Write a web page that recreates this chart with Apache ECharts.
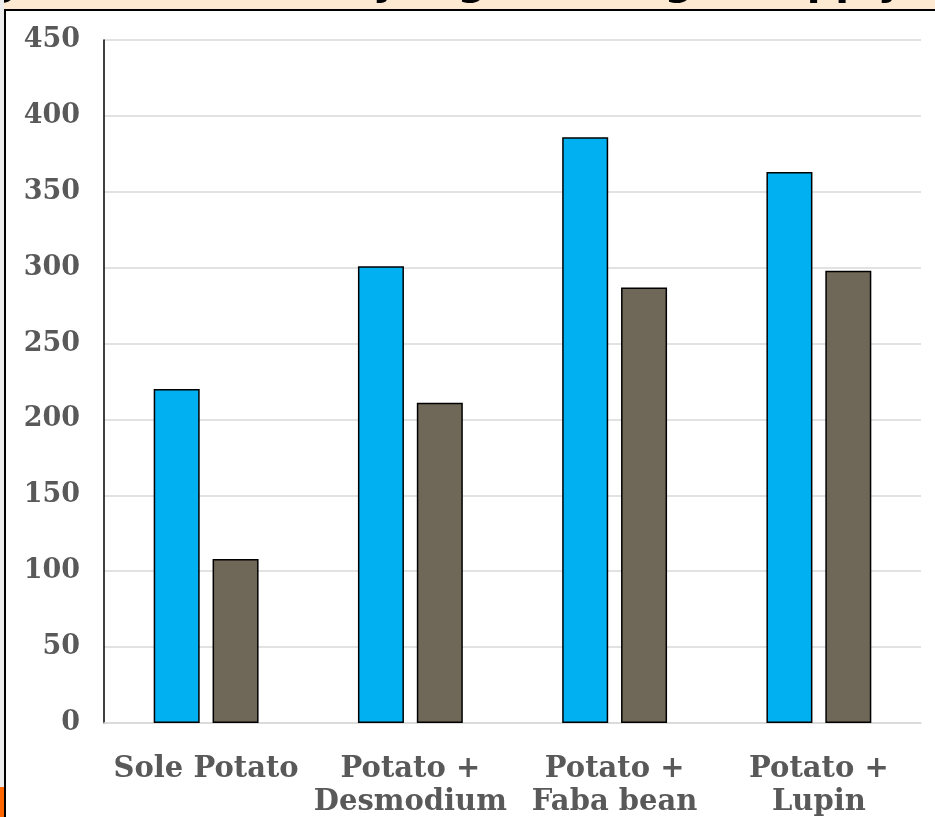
<!DOCTYPE html>
<html>
<head>
<meta charset="utf-8">
<script src="https://cdn.jsdelivr.net/npm/echarts@6/dist/echarts.min.js"></script>
<style>
  html, body { margin: 0; padding: 0; background: #ffffff; }
  #chart { width: 935px; height: 817px; }
</style>
</head>
<body>
<div id="chart"></div>
<script>
// Treatments and measured values
const categories = ['Sole Potato', 'Potato +\nDesmodium', 'Potato +\nFaba bean', 'Potato +\nLupin'];
const seriesA = [220, 301, 386, 363];
const seriesB = [108, 211, 287, 298];
const yTicks = { min: 0, max: 450, interval: 50 };
const titleText = 'Nitrogen Use Efficiency (kg tuber/kg N supply)';

const labelFont = '"DejaVu Serif", "Liberation Serif", serif';
const chart = echarts.init(document.getElementById('chart'), null, { renderer: 'canvas' });

chart.setOption({
  backgroundColor: '#ffffff',
  animation: false,
  graphic: [
    // slide header band
    { type: 'rect', shape: { x: 0, y: 0, width: 935, height: 10 }, style: { fill: '#FDE9D1' }, z: 1 },
    { type: 'text', x: 922, y: 4, z: 2,
      style: { text: titleText, fill: '#000000', font: 'bold 40px "DejaVu Sans", sans-serif',
               align: 'right', verticalAlign: 'bottom' } },
    // side strip of the slide
    { type: 'rect', shape: { x: 0, y: 0, width: 4, height: 817 }, style: { fill: '#EDEDED' }, z: 3 },
    { type: 'rect', shape: { x: 0, y: 787, width: 4, height: 30 }, style: { fill: '#FF6600' }, z: 4 },
    // chart frame
    { type: 'line', shape: { x1: 4, y1: 10, x2: 935, y2: 10 }, style: { stroke: '#000000', lineWidth: 2 }, z: 5 },
    { type: 'line', shape: { x1: 5, y1: 10, x2: 5, y2: 817 }, style: { stroke: '#000000', lineWidth: 2 }, z: 5 }
  ],
  grid: { left: 104, right: 14, top: 40, bottom: 94, containLabel: false, outerBoundsMode: 'none' },
  xAxis: {
    type: 'category',
    data: categories,
    axisLine: { show: true, lineStyle: { color: '#D9D9D9', width: 1.5 } },
    axisTick: { show: false },
    axisLabel: {
      interval: 0, margin: 30, color: '#595959',
      fontFamily: labelFont, fontWeight: 'bold', fontSize: 29, lineHeight: 33
    }
  },
  yAxis: {
    type: 'value',
    min: yTicks.min, max: yTicks.max, interval: yTicks.interval,
    axisLine: { show: true, lineStyle: { color: '#000000', width: 1.5 } },
    axisTick: { show: false },
    splitLine: { lineStyle: { color: '#D9D9D9', width: 1.5 } },
    axisLabel: {
      margin: 24, color: '#595959',
      fontFamily: labelFont, fontWeight: 'bold', fontSize: 27
    }
  },
  series: [
    {
      type: 'bar', data: seriesA, barWidth: 46, barGap: '28%',
      itemStyle: { color: '#00B0F0', borderColor: '#000000', borderWidth: 1.5 }
    },
    {
      type: 'bar', data: seriesB, barWidth: 46,
      itemStyle: { color: '#6F6757', borderColor: '#000000', borderWidth: 1.5 }
    }
  ]
});
</script>
</body>
</html>
